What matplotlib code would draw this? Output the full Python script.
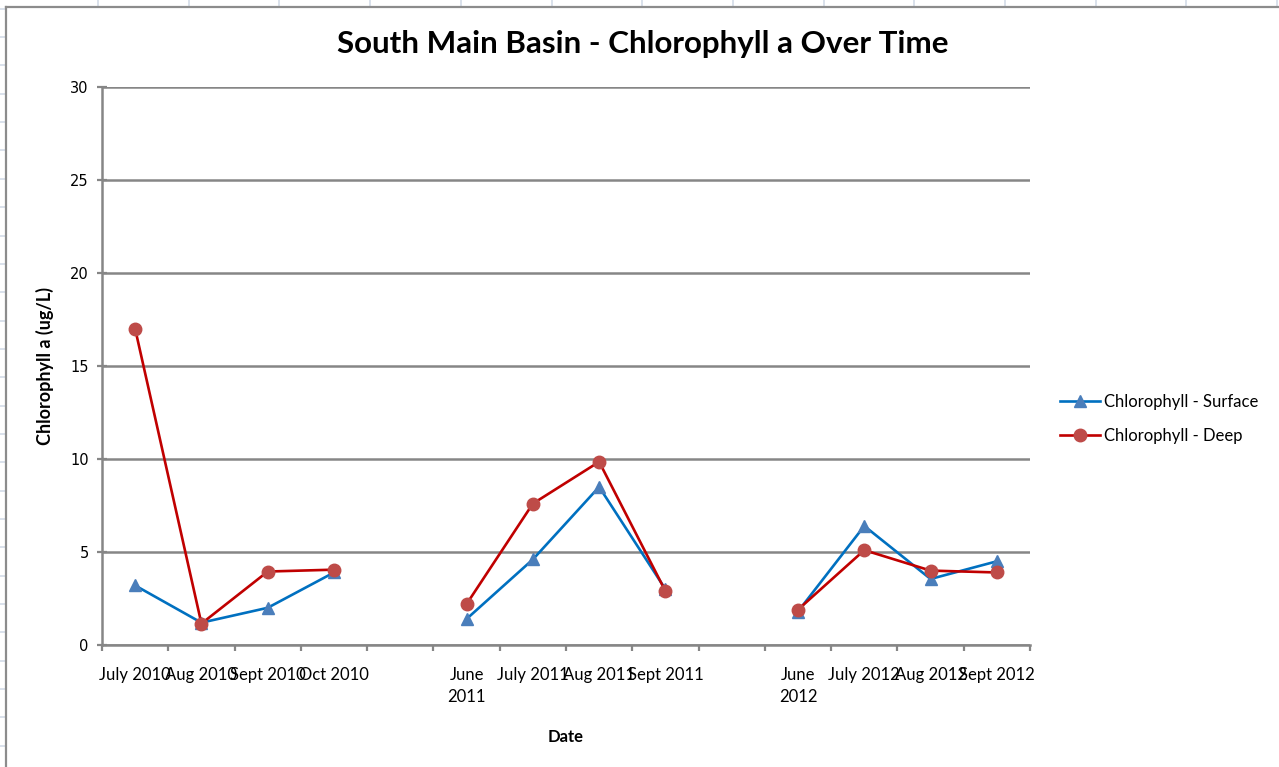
import numpy as np
import matplotlib
matplotlib.use("Agg")
import matplotlib.pyplot as plt
from matplotlib.lines import Line2D

plt.rcParams['font.family'] = ['Lato', 'DejaVu Sans']

# categories (blank slots are the gaps between seasons)
months = ['July 2010', 'Aug 2010', 'Sept 2010', 'Oct 2010', '',
          'June\n2011', 'July 2011', 'Aug 2011', 'Sept 2011', '',
          'June\n2012', 'July 2012', 'Aug 2012', 'Sept 2012']
surface = [3.2, 1.2, 2.0, 3.9, np.nan, 1.4, 4.6, 8.5, 3.0, np.nan, 1.8, 6.4, 3.55, 4.5]
deep = [17.0, 1.15, 3.95, 4.05, np.nan, 2.2, 7.6, 9.85, 2.9, np.nan, 1.9, 5.1, 4.0, 3.9]

W, H = 1279, 767
fig = plt.figure(figsize=(W / 100, H / 100), dpi=100)


def px(x, y):
    return x / W, 1 - y / H


# spreadsheet cells peeking out behind the chart
cell = '#d3dbe8'
for k in range(14):
    x = 98 + 90.7 * k
    fig.add_artist(Line2D([x / W, x / W], [1, 1 - 7 / H], color=cell, lw=1.2))
for k in range(28):
    y = 8.7 + 28.35 * k
    fig.add_artist(Line2D([0, 6 / W], [1 - y / H, 1 - y / H], color=cell, lw=1.2))
# chart border
fig.add_artist(Line2D([6 / W, 1], [1 - 7 / H, 1 - 7 / H], color='#8c8c8c', lw=1.6))
fig.add_artist(Line2D([6 / W, 6 / W], [0, 1 - 7 / H], color='#8c8c8c', lw=1.6))

ax = fig.add_axes([102 / W, 1 - 645 / H, 928 / W, 558 / H])
x = np.arange(len(months))

ax.plot(x, surface, color='#0070c0', lw=1.9, marker='^', markersize=9,
        markerfacecolor='#4a7ebb', markeredgecolor='#4a7ebb',
        label='Chlorophyll - Surface', zorder=3)
ax.plot(x, deep, color='#c00000', lw=1.9, marker='o', markersize=9,
        markerfacecolor='#be4b48', markeredgecolor='#be4b48',
        label='Chlorophyll - Deep', zorder=4)

ax.set_xlim(-0.5, len(months) - 0.5)
ax.set_ylim(0, 30)
ax.set_yticks(np.arange(0, 31, 5))
ax.set_xticks(np.arange(-0.5, len(months), 1.0))
ax.set_xticklabels([])
ax.set_xticks(x, minor=True)
ax.set_xticklabels(months, minor=True, fontsize=12, linespacing=1.45)
ax.tick_params(axis='x', which='minor', length=0, pad=16)
ax.tick_params(axis='x', which='major', direction='out', length=4.5, width=1.6, color='#868686')
ax.tick_params(axis='y', direction='inout', length=7, width=1.6, color='#868686',
               labelsize=11, pad=6)
for lab in ax.get_yticklabels():
    lab.set_family('DejaVu Sans')
    lab.set_fontsize(10.5)

ax.grid(axis='y', color='#868686', lw=1.8)
ax.set_axisbelow(True)
for s in ['top', 'right']:
    ax.spines[s].set_visible(False)
for s in ['left', 'bottom']:
    ax.spines[s].set_color('#868686')
    ax.spines[s].set_linewidth(1.8)

ax.set_xlabel('Date', fontsize=12, fontweight='bold')
ax.xaxis.set_label_coords(0.5, -0.1505)
ax.set_ylabel('Chlorophyll a (ug/L)', fontsize=13, fontweight='bold')
ax.yaxis.set_label_coords(-0.052, 0.5)

fig.text(*px(643, 44), 'South Main Basin - Chlorophyll a Over Time',
         fontsize=22.6, fontweight='bold', ha='center', va='center')

ax.legend(loc='center left', bbox_to_anchor=px(1060, 419), bbox_transform=fig.transFigure,
          frameon=False, fontsize=12, handlelength=2.4, handletextpad=0.25,
          labelspacing=1.1, borderpad=0, borderaxespad=0)

fig.savefig('out.png', dpi=100)
